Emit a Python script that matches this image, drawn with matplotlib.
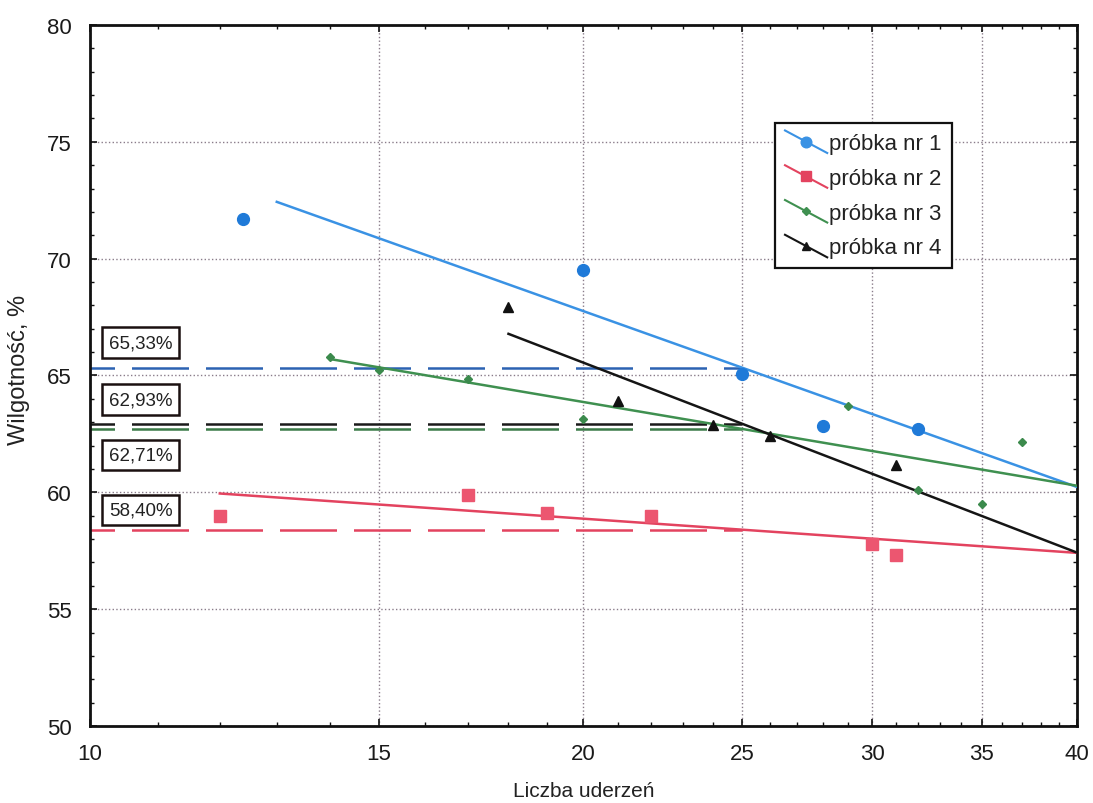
import numpy as np
import matplotlib
matplotlib.use("Agg")
import matplotlib.pyplot as plt
from matplotlib.lines import Line2D
from matplotlib.legend_handler import HandlerBase
from matplotlib.ticker import FixedLocator, FixedFormatter, MultipleLocator, NullFormatter
import matplotlib.transforms as mtransforms

plt.rcParams['font.family'] = ['Liberation Sans', 'DejaVu Sans']

# measured points: number of blows vs moisture content
blows_1 = [12.4, 20, 25, 28, 32]
moist_1 = [71.7, 69.5, 65.05, 62.85, 62.7]

blows_2 = [12, 17, 19, 22, 30, 31]
moist_2 = [59.0, 59.9, 59.1, 59.0, 57.8, 57.3]

blows_3 = [14, 15, 17, 20, 29, 32, 35, 37]
moist_3 = [65.8, 65.25, 64.85, 63.15, 63.7, 60.1, 59.5, 62.15]

blows_4 = [18, 21, 24, 26, 31]
moist_4 = [67.95, 63.9, 62.9, 62.4, 61.15]

# flow curves: value at 25 blows and slope per decade of blows
names = ['próbka nr 1', 'próbka nr 2', 'próbka nr 3', 'próbka nr 4']
w25 = [65.33, 58.40, 62.71, 62.93]
slopes = [-25.0, -4.86, -11.9, -27.0]
fit_start = [13, 12, 14, 18]
fit_end = 40
labels_25 = ['65,33%', '62,93%', '62,71%', '58,40%']
label_y = [66.41, 63.97, 61.58, 59.23]

xticks = [10, 15, 20, 25, 30, 35, 40]
yticks = [50, 55, 60, 65, 70, 75, 80]


class DiagonalHandler(HandlerBase):
    # legend key drawn as a slanted line with the marker in the middle
    def create_artists(self, legend, orig, xdescent, ydescent, width, height,
                       fontsize, trans):
        x0, x1 = -xdescent, -xdescent + width
        y0, y1 = -ydescent + height * 1.2, -ydescent - height * 0.25
        ln = Line2D([x0, x1], [y0, y1], color=orig.get_color(),
                    lw=orig.get_linewidth())
        mk = Line2D([(x0 + x1) / 2], [(y0 + y1) / 2], marker=orig.get_marker(),
                    markersize=orig.get_markersize(), color=orig.get_color(),
                    linestyle='none')
        ln.set_transform(trans)
        mk.set_transform(trans)
        return [ln, mk]


fig = plt.figure(figsize=(10.93, 8.04), dpi=100)
ax = fig.add_axes([0.0823, 0.0958, 0.9031, 0.8719])
ax.set_xscale('log')
ax.set_xlim(10, 40)
ax.set_ylim(50, 80)

line_cols = ['#3a92e4', '#e3435f', '#3f9050', '#151515']
pt_cols = ['#1f7ad8', '#ec5670', '#3b8a4c', '#111111']
dash_cols = ['#2c62b2', '#e3435f', '#3b7a48', '#1a1a1a']
markers = ['o', 's', 'D', '^']
msizes = [8.5, 8.5, 4.5, 7]
pts = [(blows_1, moist_1), (blows_2, moist_2), (blows_3, moist_3), (blows_4, moist_4)]

for i in range(4):
    bx, my = pts[i]
    ax.plot(bx, my, linestyle='none', marker=markers[i], markersize=msizes[i],
            color=pt_cols[i], zorder=4)
    xs = np.array([fit_start[i], fit_end])
    ys = w25[i] + slopes[i] * np.log10(xs / 25.0)
    ax.plot(xs, ys, color=line_cols[i], lw=1.8, zorder=3)
    # dashed level of the curve at 25 blows
    ax.plot([10, 25], [w25[i], w25[i]], color=dash_cols[i], lw=1.8,
            linestyle=(13, (22.8, 6.8)), zorder=2)

trans = mtransforms.blended_transform_factory(ax.transAxes, ax.transData)
for txt, yy in zip(labels_25, label_y):
    ax.text(0.019, yy, txt, transform=trans, ha='left', va='center',
            fontsize=13.5,
            family=['Liberation Sans Narrow', 'DejaVu Sans Condensed', 'Liberation Sans'],
            color='#222222', zorder=6,
            bbox=dict(boxstyle='square,pad=0.35', fc='white', ec='#1a1010', lw=1.8))

ax.xaxis.set_major_locator(FixedLocator(xticks))
ax.xaxis.set_major_formatter(FixedFormatter([str(t) for t in xticks]))
ax.xaxis.set_minor_locator(MultipleLocator(1))
ax.xaxis.set_minor_formatter(NullFormatter())
ax.set_yticks(yticks)
ax.yaxis.set_minor_locator(MultipleLocator(1))

ax.grid(True, which='major', linestyle=':', color='#8a7c8a', lw=1.0)
ax.tick_params(which='both', direction='in', top=True, right=True,
               labelsize=16, labelcolor='#1a1a1a', colors='#111111')
ax.tick_params(which='major', length=5, width=1.2)
ax.tick_params(axis='x', which='major', pad=12)
ax.tick_params(axis='y', which='major', pad=13)
ax.tick_params(which='minor', length=3, width=1.0)
for s in ax.spines.values():
    s.set_linewidth(2.0)
    s.set_color('#111111')

ax.set_xlabel('Liczba uderzeń', fontsize=15, color='#222222')
ax.set_ylabel('Wilgotność, %', fontsize=17, color='#222222')
ax.xaxis.set_label_coords(0.5, -0.078)
ax.yaxis.set_label_coords(-0.061, 0.51)

handles = [Line2D([], [], color=line_cols[i], marker=markers[i],
                  markersize=msizes[i] * 0.9, lw=1.5) for i in range(4)]
leg = ax.legend(handles, names, loc='upper left', bbox_to_anchor=(0.694, 0.86),
                borderaxespad=0, fontsize=16, fancybox=False, framealpha=1,
                edgecolor='#111111', handlelength=1.9, handletextpad=0.1,
                labelspacing=0.62, borderpad=0.45,
                handler_map={Line2D: DiagonalHandler()})
leg.get_frame().set_linewidth(1.6)
for t in leg.get_texts():
    t.set_color('#222222')
leg.set_zorder(7)

fig.savefig('out.png', dpi=100)
